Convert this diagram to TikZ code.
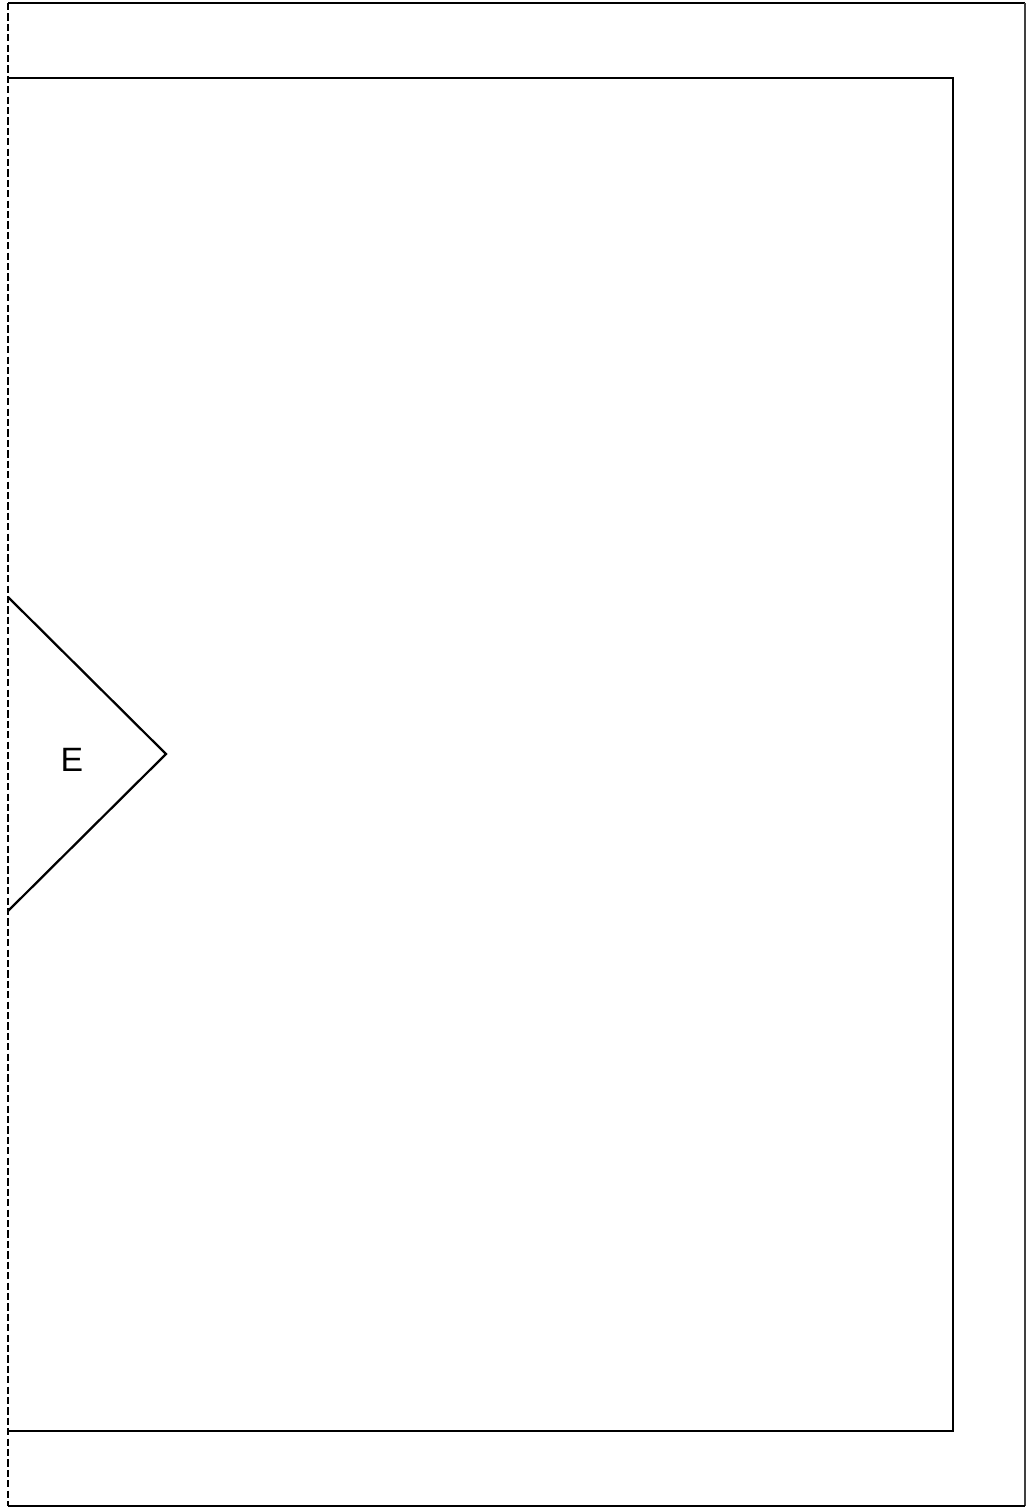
\documentclass[tikz,border=0pt]{standalone}
\usepackage{fontspec}
\setmainfont{Liberation Sans}
\tikzset{
  wall/.style={draw=black, line width=1.6pt},
  edgewall/.style={draw=black!75, line width=1.4pt},
  cutline/.style={draw=black, line width=1.3pt, dash pattern=on 0.18cm off 0.08cm},
  tag/.style={font=\fontsize{24}{29}\selectfont, inner sep=0pt}
}
\begin{document}
\begin{tikzpicture}[x=0.025cm, y=-0.025cm]
  \useasboundingbox (0,0) rectangle (1028,1509);
  % outer frame
  \coordinate (otl) at (8,3);
  \coordinate (otr) at (1025,3);
  \coordinate (obr) at (1025,1506);
  \coordinate (obl) at (8,1506);
  \draw[wall] (otl) -- (otr);
  \draw[edgewall] (otr) -- (obr);
  \draw[wall] (obr) -- (obl);
  % inner room
  \coordinate (itl) at (8,78);
  \coordinate (itr) at (953,78);
  \coordinate (ibr) at (953,1431);
  \coordinate (ibl) at (8,1431);
  \draw[wall] (itl) -- (itr) -- (ibr) -- (ibl);
  % entrance
  \coordinate (etop) at (8,597);
  \coordinate (etip) at (166,754);
  \coordinate (ebot) at (8,911);
  \draw[wall, line join=miter] (etop) -- (etip) -- (ebot);
  \node[tag] (entry) at (72,760) {E};
  % open side
  \draw[cutline] (otl) -- (obl);
\end{tikzpicture}
\end{document}
